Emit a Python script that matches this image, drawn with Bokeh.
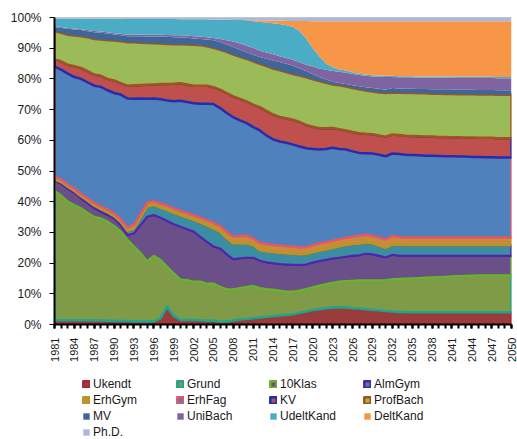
import math
import numpy as np
from bokeh.plotting import figure
from bokeh.layouts import column
from bokeh.models import (ColumnDataSource, FixedTicker, NumeralTickFormatter,
                          Legend, LegendItem, Span, Range1d)
from bokeh.embed import file_html
from bokeh.resources import INLINE

years = list(range(1981, 2051))

names = ["Ukendt", "Grund", "10Klas", "AlmGym", "ErhGym", "ErhFag", "KV",
         "ProfBach", "MV", "UniBach", "UdeltKand", "DeltKand", "Ph.D."]

ukendt = [1.4, 1.4, 1.4, 1.4, 1.4, 1.4, 1.3, 1.3, 1.2, 1.1,
          1.1, 1.1, 1.0, 1.0, 1.0, 1.0, 2.0, 5.8, 2.8, 1.5,
          1.5, 1.5, 1.4, 1.2, 1.3, 0.9, 1.0, 1.3, 1.6, 1.8,
          2.0, 2.3, 2.5, 2.7, 2.9, 3.1, 3.3, 3.8, 4.2, 4.7,
          5.0, 5.3, 5.5, 5.6, 5.5, 5.3, 5.2, 5.0, 4.8, 4.6,
          4.4, 4.2, 4.1, 4.0, 4.0, 4.0, 4.0, 4.0, 4.0, 4.0,
          4.0, 4.0, 4.0, 4.0, 4.0, 4.0, 4.0, 4.0, 4.0, 4.0]
grund = [42.1, 40.6, 38.6, 37.4, 36.4, 34.9, 33.7, 33.2, 32.3, 30.9,
         29.1, 26.5, 24.4, 22.2, 19.5, 21.3, 19.0, 13.0, 13.8, 13.1,
         12.9, 12.4, 12.5, 12.1, 12.0, 11.3, 10.4, 10.1, 10.2, 10.4,
         10.5, 9.5, 9.0, 8.6, 8.1, 7.6, 7.4, 7.2, 7.3, 7.4,
         7.6, 7.8, 8.0, 8.3, 8.6, 8.9, 9.1, 9.3, 9.5, 9.7,
         10.0, 10.5, 10.7, 10.9, 11.0, 11.1, 11.2, 11.3, 11.4, 11.5,
         11.6, 11.7, 11.8, 11.9, 12.0, 12.0, 12.0, 12.0, 12.0, 12.0]
klas10 = [3.3, 3.8, 4.2, 4.0, 3.2, 3.2, 2.8, 2.2, 2.1, 2.5,
          2.1, 1.5, 4.2, 9.1, 14.5, 13.3, 13.7, 14.9, 16.0, 17.2,
          16.6, 16.3, 14.6, 13.6, 12.0, 12.5, 11.4, 9.8, 9.7, 9.5,
          9.2, 8.9, 8.7, 8.6, 8.6, 8.8, 8.7, 8.3, 8.0, 8.0,
          8.0, 7.9, 7.9, 7.8, 7.9, 8.1, 8.2, 8.7, 8.5, 8.0,
          7.4, 7.9, 7.6, 7.4, 7.3, 7.2, 7.1, 7.0, 6.9, 6.8,
          6.7, 6.6, 6.5, 6.4, 6.3, 6.3, 6.3, 6.3, 6.3, 6.3]
almgym = [0.5, 0.6, 0.7, 0.7, 0.8, 0.8, 0.9, 0.9, 0.9, 0.8,
          1.1, 1.4, 1.6, 2.5, 3.3, 3.3, 3.3, 3.6, 3.8, 3.8,
          3.8, 3.8, 4.7, 5.4, 5.9, 5.5, 5.2, 5.2, 4.9, 4.7,
          4.1, 3.5, 3.6, 3.6, 3.7, 3.6, 3.6, 3.5, 3.4, 3.4,
          3.4, 3.4, 3.5, 3.7, 3.8, 3.8, 3.8, 3.6, 3.6, 3.3,
          3.1, 3.4, 3.5, 3.5, 3.5, 3.5, 3.5, 3.5, 3.5, 3.5,
          3.5, 3.5, 3.5, 3.5, 3.5, 3.5, 3.5, 3.5, 3.5, 3.5]
erhgym = [0.9, 0.8, 0.7, 0.7, 0.7, 0.8, 0.8, 0.9, 0.9, 0.9,
          0.9, 1.0, 1.3, 1.2, 1.4, 1.3, 1.4, 1.4, 1.4, 1.4,
          1.5, 1.6, 1.6, 1.7, 1.9, 1.9, 2.2, 2.2, 2.4, 2.5,
          2.2, 2.4, 2.4, 2.4, 2.4, 2.4, 2.4, 2.3, 2.3, 2.3,
          2.4, 2.4, 2.4, 2.4, 2.4, 2.5, 2.6, 2.6, 2.5, 2.7,
          2.8, 2.8, 2.6, 2.5, 2.5, 2.5, 2.5, 2.5, 2.5, 2.5,
          2.5, 2.5, 2.5, 2.5, 2.5, 2.5, 2.5, 2.5, 2.5, 2.5]
erhfag = [35.8, 35.8, 36.1, 36.4, 37.5, 37.8, 38.3, 38.9, 38.9, 39.2,
          40.6, 42.1, 41.0, 37.6, 33.8, 33.4, 34.0, 34.3, 34.9, 35.9,
          36.2, 36.5, 37.1, 37.9, 38.7, 38.4, 38.7, 38.9, 37.7, 36.7,
          36.3, 36.6, 35.4, 34.4, 33.9, 33.7, 33.2, 32.9, 32.2, 31.4,
          30.6, 30.4, 30.3, 29.4, 28.8, 27.8, 27.0, 26.6, 26.8, 27.0,
          27.1, 26.9, 27.0, 27.0, 26.9, 26.8, 26.7, 26.7, 26.6, 26.5,
          26.5, 26.4, 26.4, 26.3, 26.3, 26.2, 26.2, 26.1, 26.1, 26.1]
kv = [2.5, 2.7, 2.9, 3.5, 3.6, 3.6, 3.6, 3.6, 3.7, 4.1,
      3.7, 4.2, 4.4, 4.4, 4.6, 4.6, 4.9, 5.3, 5.7, 5.7,
      5.7, 5.7, 5.9, 5.9, 5.5, 6.0, 6.5, 6.8, 7.0, 7.1,
      7.3, 7.6, 8.0, 8.1, 8.0, 8.0, 8.1, 8.0, 7.6, 7.2,
      6.9, 6.7, 6.4, 6.4, 6.2, 6.3, 6.4, 6.3, 6.3, 6.3,
      6.4, 6.2, 6.2, 6.2, 6.2, 6.2, 6.2, 6.2, 6.2, 6.3,
      6.2, 6.3, 6.2, 6.3, 6.2, 6.3, 6.3, 6.3, 6.3, 6.3]
profbach = [9.0, 9.3, 9.8, 10.0, 10.3, 11.1, 11.6, 11.8, 12.6, 13.0,
            13.7, 14.1, 14.0, 13.8, 13.6, 13.4, 13.2, 13.1, 12.9, 12.7,
            13.0, 13.3, 13.2, 12.8, 12.8, 13.0, 13.4, 13.6, 13.7, 13.8,
            14.1, 14.1, 14.6, 15.0, 15.2, 15.0, 14.9, 15.1, 15.5, 15.5,
            15.4, 14.8, 14.2, 14.3, 14.3, 14.3, 14.3, 14.1, 13.9, 14.0,
            14.2, 13.7, 13.8, 13.9, 14.0, 14.0, 14.1, 14.0, 14.1, 14.0,
            14.1, 14.0, 14.1, 14.1, 14.1, 14.1, 14.1, 14.1, 14.1, 14.1]
mv = [1.4, 1.6, 1.9, 2.0, 2.0, 1.9, 2.2, 2.2, 2.2, 2.0,
      1.9, 2.0, 2.0, 2.1, 2.1, 2.2, 2.3, 2.3, 2.3, 2.2,
      2.2, 2.1, 2.0, 2.2, 2.5, 2.5, 2.4, 2.5, 2.3, 2.2,
      2.2, 2.2, 2.4, 2.6, 2.7, 2.7, 2.7, 2.4, 2.1, 1.6,
      1.3, 1.1, 0.9, 0.8, 0.8, 0.9, 1.0, 1.1, 1.1, 1.2,
      1.1, 1.4, 1.4, 1.4, 1.4, 1.4, 1.4, 1.4, 1.4, 1.5,
      1.5, 1.5, 1.5, 1.5, 1.5, 1.5, 1.5, 1.5, 1.5, 1.5]
unibach = [0.3, 0.3, 0.3, 0.3, 0.3, 0.4, 0.4, 0.4, 0.4, 0.4,
           0.5, 0.5, 0.5, 0.5, 0.6, 0.6, 0.6, 0.6, 0.6, 0.7,
           0.7, 0.7, 0.8, 0.8, 0.7, 1.0, 1.4, 1.8, 2.0, 2.1,
           2.2, 2.1, 2.0, 2.0, 1.9, 1.9, 1.9, 1.9, 2.0, 2.5,
           2.8, 3.2, 3.5, 3.6, 3.7, 3.7, 3.7, 3.7, 3.8, 3.9,
           4.1, 3.6, 3.6, 3.7, 3.7, 3.7, 3.7, 3.8, 3.8, 3.8,
           3.8, 3.8, 3.8, 3.8, 3.9, 3.9, 3.9, 3.9, 3.9, 3.9]
udeltkand = [2.5, 2.8, 3.1, 3.3, 3.5, 3.7, 4.0, 4.2, 4.4, 4.7,
             4.9, 5.1, 5.1, 5.1, 5.1, 5.1, 5.1, 5.2, 5.3, 5.2,
             5.3, 5.5, 5.6, 5.8, 6.0, 6.3, 6.7, 7.0, 7.7, 8.3,
             8.7, 9.4, 9.7, 10.1, 10.5, 10.7, 10.8, 10.2, 8.6, 6.0,
             3.9, 2.0, 1.2, 0.8, 0.7, 0.6, 0.4, 0.4, 0.4, 0.4,
             0.4, 0.4, 0.4, 0.4, 0.4, 0.4, 0.4, 0.4, 0.4, 0.4,
             0.4, 0.4, 0.4, 0.4, 0.4, 0.4, 0.4, 0.4, 0.4, 0.4]
deltkand = [0.0, 0.0, 0.0, 0.0, 0.0, 0.0, 0.0, 0.0, 0.0, 0.0,
            0.0, 0.0, 0.0, 0.0, 0.0, 0.0, 0.0, 0.0, 0.0, 0.0,
            0.0, 0.0, 0.0, 0.0, 0.0, 0.0, 0.0, 0.0, 0.0, 0.1,
            0.3, 0.5, 0.7, 0.9, 1.1, 1.4, 1.9, 3.3, 5.7, 8.8,
            11.5, 13.8, 15.0, 15.7, 16.1, 16.6, 17.1, 17.4, 17.6, 17.7,
            17.8, 17.8, 17.9, 17.9, 17.9, 18.0, 18.0, 18.0, 18.0, 18.0,
            18.0, 18.1, 18.1, 18.1, 18.1, 18.1, 18.1, 18.2, 18.2, 18.2]
phd = [0.3, 0.3, 0.3, 0.3, 0.3, 0.4, 0.4, 0.4, 0.4, 0.4,
       0.4, 0.5, 0.5, 0.5, 0.5, 0.5, 0.5, 0.5, 0.5, 0.6,
       0.6, 0.6, 0.6, 0.6, 0.7, 0.7, 0.7, 0.8, 0.8, 0.8,
       0.9, 0.9, 1.0, 1.0, 1.0, 1.1, 1.1, 1.1, 1.1, 1.2,
       1.2, 1.2, 1.2, 1.2, 1.2, 1.2, 1.2, 1.2, 1.2, 1.2,
       1.2, 1.2, 1.2, 1.2, 1.2, 1.2, 1.2, 1.2, 1.2, 1.2,
       1.2, 1.2, 1.2, 1.2, 1.2, 1.2, 1.2, 1.2, 1.2, 1.2]

series = [ukendt, grund, klas10, almgym, erhgym, erhfag, kv,
          profbach, mv, unibach, udeltkand, deltkand, phd]

fill_colors = ["#9A3B3C", "#7F9B48", "#6A4F88", "#3A8DA3", "#C98A3C",
               "#4F81BD", "#C0504D", "#9BBB59", "#3F6698", "#8064A2",
               "#4BACC6", "#F79646", "#AAB9D8"]
line_colors = ["#A8263A", "#1EA58E", "#6EB12B", "#5423AE", "#B39A1E",
               "#E5566B", "#1E2FB0", "#A3541E", "#3F6698", "#8064A2",
               "#4BACC6", "#F79646", "#AAB9D8"]
line_alphas = [1, 1, 1, 1, 1, 1, 1, 1, 0, 0, 0, 0, 0]

# 100% stacking
vals = np.array(series, dtype=float)
shares = vals / vals.sum(axis=0)
tops = np.cumsum(shares, axis=0)
bottoms = np.vstack([np.zeros(len(years)), tops[:-1]])
x = np.array(years, dtype=float)
xs, ys = [], []
for i in range(len(series)):
    xs.append(list(x) + list(x[::-1]))
    ys.append(list(tops[i]) + list(bottoms[i][::-1]))

src = ColumnDataSource(dict(xs=xs, ys=ys, fill=fill_colors,
                            line=line_colors, la=line_alphas))

FONT = "Liberation Sans"

p = figure(width=517, height=369, output_backend="svg", toolbar_location=None,
           x_range=Range1d(1981, 2050), y_range=Range1d(0, 1),
           min_border_left=54, min_border_right=6, min_border_top=17,
           min_border_bottom=45)
p.outline_line_color = None
p.xgrid.visible = False
p.ygrid.visible = False

r = p.patches("xs", "ys", source=src, fill_color="fill", line_color="line",
              line_alpha="la", line_width=2.5, line_join="round")

p.add_layout(Span(location=1, dimension="width", line_color="#555555",
                  line_dash="1 1", line_width=1))

# y axis
p.yaxis.ticker = FixedTicker(ticks=[i / 10 for i in range(11)])
p.yaxis.formatter = NumeralTickFormatter(format="0%")
p.yaxis.major_label_text_font = FONT
p.yaxis.major_label_text_font_size = "12px"
p.yaxis.major_label_text_color = "#1a1a1a"
p.yaxis.axis_line_color = "black"
p.yaxis.axis_line_width = 2
p.yaxis.major_tick_out = 5
p.yaxis.major_tick_in = 0
p.yaxis.major_tick_line_color = "black"
p.yaxis.minor_tick_line_color = None
p.yaxis.major_label_standoff = 8

# x axis
p.xaxis.ticker = FixedTicker(ticks=years[::3], minor_ticks=years)
p.xaxis.major_label_orientation = math.pi / 2
p.xaxis.major_label_text_font = FONT
p.xaxis.major_label_text_font_size = "11px"
p.xaxis.major_label_text_color = "#1a1a1a"
p.xaxis.axis_line_color = "black"
p.xaxis.axis_line_width = 2
p.xaxis.major_tick_out = 4
p.xaxis.major_tick_in = 0
p.xaxis.minor_tick_out = 4
p.xaxis.minor_tick_in = 0
p.xaxis.major_tick_line_width = 2
p.xaxis.minor_tick_line_width = 2
p.xaxis.major_tick_line_color = "black"
p.xaxis.minor_tick_line_color = "black"
p.xaxis.major_label_standoff = 9

# legend panel (second figure; its glyphs lie outside its ranges)
leg_h = 70
q = figure(width=517, height=leg_h, output_backend="svg", toolbar_location=None,
           x_range=Range1d(0, 1), y_range=Range1d(0, 1),
           x_axis_type=None, y_axis_type=None, min_border=0)
q.outline_line_color = None
q.xgrid.visible = False
q.ygrid.visible = False
rq = q.patches("xs", "ys", source=src, fill_color="fill", line_color="line",
               line_alpha="la", line_width=2.5, line_join="round")

# frame of q is aligned with frame of p (starts 54px from the left edge)
col_x = [28, 122, 215, 309]
row_h = 16
top_gap = 7
for c in range(4):
    idx = [k for k in range(len(names)) if k % 4 == c]
    items = [LegendItem(label=names[k], renderers=[rq], index=k) for k in idx]
    n = len(idx)
    leg = Legend(items=items, location=(col_x[c], leg_h - top_gap - row_h * n),
                 orientation="vertical", border_line_color=None,
                 background_fill_alpha=0, padding=0, margin=0, spacing=0,
                 glyph_width=8, glyph_height=8, label_height=row_h,
                 label_standoff=3, label_text_font=FONT,
                 label_text_font_size="12px", label_text_color="#1a1a1a")
    q.add_layout(leg)

layout = column(p, q, spacing=0)
open("out.html", "w").write(file_html(layout, INLINE))
